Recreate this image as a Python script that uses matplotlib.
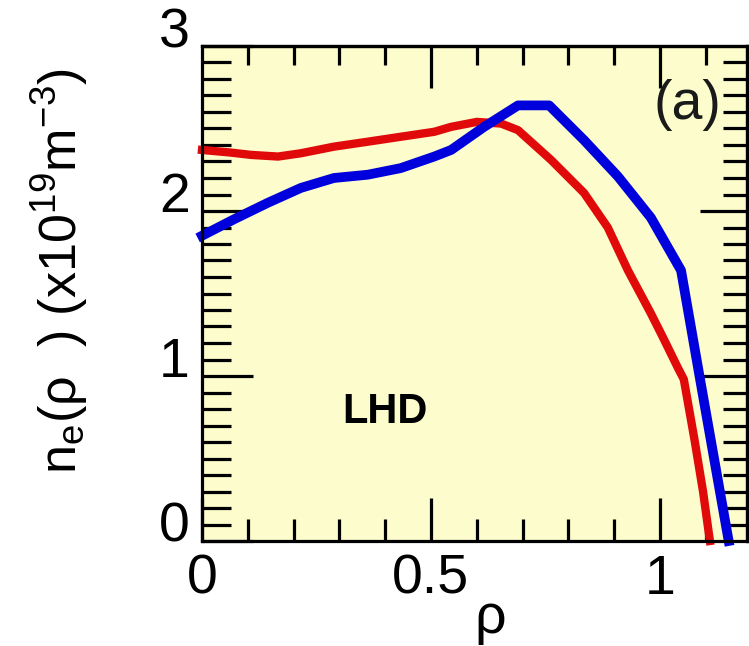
import numpy as np
import matplotlib
matplotlib.use("Agg")
import matplotlib.pyplot as plt
from matplotlib.transforms import ScaledTranslation

plt.rcParams['font.family'] = ['Liberation Sans', 'DejaVu Sans']
plt.rcParams['mathtext.fontset'] = 'custom'
plt.rcParams['mathtext.rm'] = 'Liberation Sans'

# Density profiles n_e(rho)
rho_red = [0.0, 0.06, 0.107, 0.166, 0.216, 0.288, 0.362, 0.434, 0.507, 0.544, 0.60,
           0.653, 0.69, 0.762, 0.834, 0.886, 0.93, 0.98, 1.009, 1.039, 1.052,
           1.075, 1.094, 1.109]
ne_red = [2.37, 2.355, 2.34, 2.33, 2.35, 2.39, 2.42, 2.45, 2.48, 2.51, 2.54,
          2.53, 2.49, 2.31, 2.11, 1.90, 1.64, 1.38, 1.22, 1.05, 0.98,
          0.62, 0.30, 0.0]

rho_blue = [0.0, 0.07, 0.144, 0.216, 0.288, 0.362, 0.434, 0.507, 0.544, 0.616,
            0.69, 0.758, 0.834, 0.908, 0.98, 1.046, 1.085, 1.12, 1.150]
ne_blue = [1.85, 1.95, 2.05, 2.14, 2.20, 2.22, 2.26, 2.33, 2.37, 2.51,
           2.64, 2.64, 2.43, 2.21, 1.96, 1.64, 1.02, 0.47, 0.0]

xticks = [0, 0.5, 1]
xticklabels = ['0', '0.5', '1']
yticks = [0, 1, 2, 3]
yticklabels = ['0', '1', '2', '3']

W, H = 749, 646
fig = plt.figure(figsize=(W / 100, H / 100), dpi=100)
ax = fig.add_axes([202 / W, 1 - 541 / H, 545 / W, 495 / H])
ax.set_facecolor('#FCFCCC')
ax.set_xlim(0, 1.19)
ax.set_ylim(0, 3)

ax.plot(rho_red, ne_red, color='#E00A0A', lw=6.0, clip_on=False, zorder=3)
ax.plot(rho_blue, ne_blue, color='#0000DC', lw=7.0, clip_on=False, zorder=4)

for s in ax.spines.values():
    s.set_linewidth(2.3)
    s.set_zorder(5)

ax.set_xticks(xticks)
ax.set_xticklabels(xticklabels)
ax.set_xticks(np.arange(0.1, 1.15, 0.1), minor=True)
ax.set_yticks(yticks)
ax.set_yticklabels(yticklabels)
ax.set_yticks(np.arange(0.1, 3.0, 0.1), minor=True)

ax.tick_params(axis='both', which='both', direction='in', width=2.3,
               labelsize=40, top=False, right=False)
ax.tick_params(axis='y', which='major', length=37, pad=9)
ax.tick_params(axis='y', which='minor', length=21)
ax.tick_params(axis='x', which='major', length=31, pad=9)
ax.tick_params(axis='x', which='minor', length=16)

# shift the y tick labels upward
offset = ScaledTranslation(0, 0.19, fig.dpi_scale_trans)
for lab in ax.get_yticklabels():
    lab.set_transform(lab.get_transform() + offset)

# top and right tick rows
top = ax.secondary_xaxis('top')
top.set_xticks([0.5, 1.0])
top.set_xticks(np.arange(0.1, 1.15, 0.1), minor=True)
top.tick_params(which='both', direction='in', width=2.3, labeltop=False)
top.tick_params(which='major', length=30)
top.tick_params(which='minor', length=14)
top.spines['top'].set_linewidth(2.3)

right = ax.secondary_yaxis('right')
right.set_yticks([1, 2])
right.set_yticks(np.arange(0.1, 3.0, 0.1), minor=True)
right.tick_params(which='both', direction='in', width=2.3, labelright=False)
right.tick_params(which='major', length=34)
right.tick_params(which='minor', length=17)
right.spines['right'].set_linewidth(2.3)

ax.text(0.40, 0.78, 'LHD', fontsize=30, fontweight='bold', ha='center', va='center')
ax.text(1.059, 2.64, '(a)', fontsize=40, ha='center', va='center', color='#1a1a1a')

fig.text(60 / W, 1 - 271 / H,
         r'n$_\mathregular{e}$(ρ  ) (x10$^\mathregular{19}$m$^\mathregular{-3}$)',
         rotation=90, fontsize=37.5, ha='center', va='center')
fig.text(490 / W, 1 - 633 / H, 'ρ', fontsize=40, ha='center', va='baseline')

fig.savefig('out.png', dpi=100)
